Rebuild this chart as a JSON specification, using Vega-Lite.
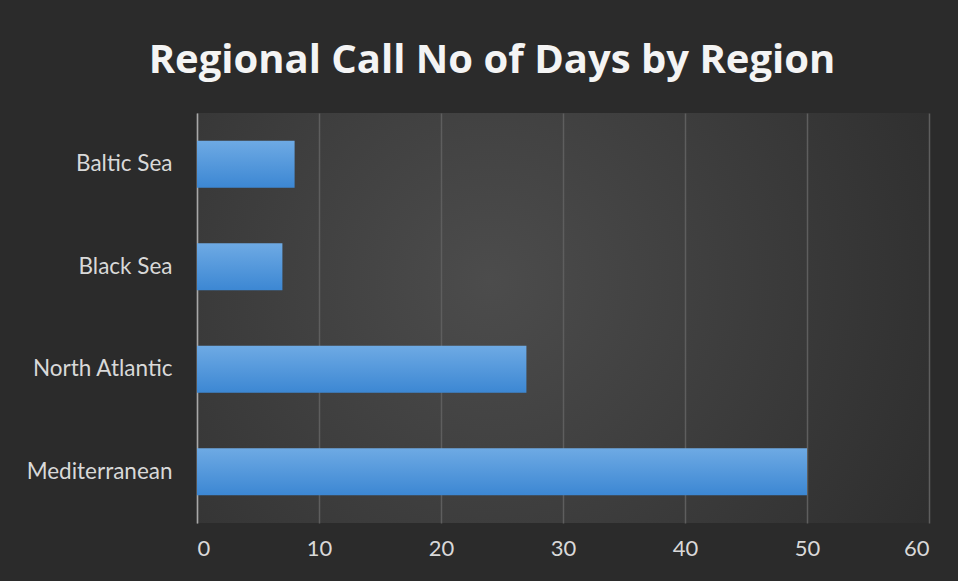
{
  "$schema": "https://vega.github.io/schema/vega-lite/v6.json",
  "width": 732,
  "height": 410,
  "autosize": {"type": "none"},
  "padding": {"left": 197, "top": 113, "right": 29, "bottom": 58},
  "background": "#2b2b2b",
  "title": {
    "text": "Regional Call No of Days by Region",
    "anchor": "middle",
    "dx": -71,
    "offset": 32,
    "font": "Open Sans",
    "fontWeight": "bold",
    "fontSize": 40,
    "color": "#f4f4f4"
  },
  "data": {
    "values": [
      {"region": "Baltic Sea", "days": 8},
      {"region": "Black Sea", "days": 7},
      {"region": "North Atlantic", "days": 27},
      {"region": "Mediterranean", "days": 50}
    ]
  },
  "mark": {
    "type": "bar",
    "color": {
      "gradient": "linear",
      "x1": 0, "y1": 0, "x2": 0, "y2": 1,
      "stops": [
        {"offset": 0, "color": "#6eaae4"},
        {"offset": 1, "color": "#3c87d3"}
      ]
    }
  },
  "encoding": {
    "y": {
      "field": "region",
      "type": "nominal",
      "sort": ["Baltic Sea", "Black Sea", "North Atlantic", "Mediterranean"],
      "scale": {"paddingInner": 0.54, "paddingOuter": 0.27},
      "axis": {
        "title": null,
        "ticks": false,
        "domain": true,
        "domainColor": "#a8a8a8",
        "domainWidth": 1.5,
        "labelPadding": 25,
        "labelFont": "Lato",
        "labelFontSize": 22.5,
        "labelColor": "#d9d9d9"
      }
    },
    "x": {
      "field": "days",
      "type": "quantitative",
      "scale": {"domain": [0, 60], "nice": false},
      "axis": {
        "title": null,
        "values": [0, 10, 20, 30, 40, 50, 60],
        "ticks": false,
        "domain": false,
        "grid": true,
        "gridColor": "#5e5e5e",
        "gridWidth": 1.5,
        "labelPadding": 15,
        "labelFont": "Lato",
        "labelFontSize": 22,
        "labelColor": "#d9d9d9"
      }
    }
  },
  "config": {
    "view": {
      "stroke": null,
      "fill": {
        "gradient": "radial",
        "x1": 0.4, "y1": 0.45, "x2": 0.4, "y2": 0.45,
        "r1": 0, "r2": 0.75,
        "stops": [
          {"offset": 0, "color": "#4c4c4c"},
          {"offset": 1, "color": "#2b2b2b"}
        ]
      }
    }
  }
}
